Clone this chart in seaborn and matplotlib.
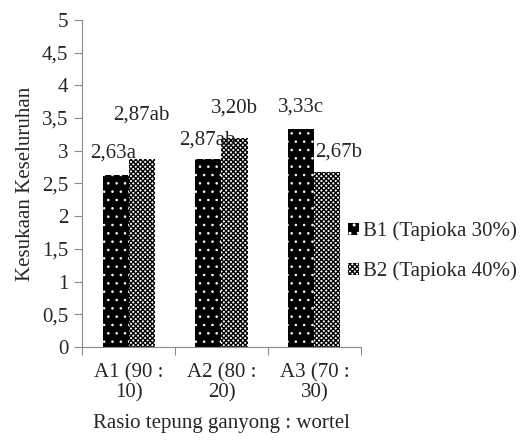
import matplotlib
matplotlib.use("Agg")
import matplotlib.pyplot as plt
import seaborn as sns
import pandas as pd
from matplotlib.patches import Patch

categories = ["A1 (90 :\n10)", "A2 (80 :\n20)", "A3 (70 :\n30)"]
series_names = ["B1 (Tapioka 30%)", "B2 (Tapioka 40%)"]
b1_values = [2.63, 2.87, 3.33]
b2_values = [2.87, 3.20, 2.67]
b1_labels = ["2,63a", "2,87ab", "3,33c"]
b2_labels = ["2,87ab", "3,20b", "2,67b"]
y_ticks = [0, 0.5, 1, 1.5, 2, 2.5, 3, 3.5, 4, 4.5, 5]

df = pd.DataFrame({
    "kategori": categories * 2,
    "perlakuan": [series_names[0]] * 3 + [series_names[1]] * 3,
    "nilai": b1_values + b2_values,
})

sns.set_style("white")
plt.rcParams["font.family"] = ["Liberation Serif", "DejaVu Serif"]
FS = 15

fig = plt.figure(figsize=(5.23, 4.41), dpi=100)
ax = fig.add_axes([0.157, 0.213, 0.533, 0.742])

sns.barplot(data=df, x="kategori", y="nilai", hue="perlakuan",
            order=categories, hue_order=series_names,
            palette=["black", "white"], width=0.56, gap=0,
            legend=False, ax=ax, linewidth=0, saturation=1)

# fill patterns: dotted black for B1, fine checker for B2
styles = [("black", "white", "..", 0.6), ("white", "black", "xxxxxxx", 1.0)]
for cont, (fc, ec, hatch, hlw) in zip(ax.containers, styles):
    for bar in cont:
        bar.set_facecolor(fc)
        bar.set_edgecolor(ec)
        bar.set_hatch(hatch)
        bar.set_linewidth(0)
        if hasattr(bar, "set_hatch_linewidth"):
            bar.set_hatch_linewidth(hlw)

# value labels positioned relative to their bars
b1_offsets = [(-0.03, 0.34), (-0.01, 0.30), (0.0, 0.33)]
b2_offsets = [(0.0, 0.68), (0.0, 0.45), (0.12, 0.31)]
for cont, labels, values, offsets in [(ax.containers[0], b1_labels, b1_values, b1_offsets),
                                      (ax.containers[1], b2_labels, b2_values, b2_offsets)]:
    for bar, lab, val, (dx, dy) in zip(cont, labels, values, offsets):
        cx = bar.get_x() + bar.get_width() / 2
        ax.text(cx + dx, val + dy, lab, ha="center", va="center", fontsize=FS)

ax.set_ylim(0, 5)
ax.set_xlim(-0.5, 2.5)
ax.set_yticks(y_ticks)
ax.set_yticklabels([f"{t:g}".replace(".", ",") for t in y_ticks], fontsize=FS)
ax.set_xticks([0, 1, 2])
ax.set_xticklabels(categories, fontsize=FS, linespacing=1.05)
ax.tick_params(axis="x", length=0, pad=12)
ax.tick_params(axis="y", length=6, width=0.8, color="#8c8c8c", left=True, pad=4)
# category separators along the x axis
ax.set_xticks([-0.5, 0.5, 1.5, 2.5], minor=True)
ax.tick_params(axis="x", which="minor", length=6, width=0.8, color="#8c8c8c", bottom=True)

for side in ["top", "right"]:
    ax.spines[side].set_visible(False)
for side in ["left", "bottom"]:
    ax.spines[side].set_color("#8c8c8c")
    ax.spines[side].set_linewidth(0.8)

ax.set_xlabel("Rasio tepung ganyong : wortel", fontsize=FS, labelpad=8)
ax.set_ylabel("Kesukaan Keseluruhan", fontsize=FS, labelpad=5)

handles = [Patch(facecolor="black", edgecolor="white", hatch="..", linewidth=0),
           Patch(facecolor="white", edgecolor="black", hatch="xxxxxxx", linewidth=0)]
fig.legend(handles, series_names, loc="center left",
           bbox_to_anchor=(0.63, 0.43), frameon=False, fontsize=FS,
           handlelength=0.5, handleheight=0.5, handletextpad=0.2,
           labelspacing=0.95)

fig.savefig("out.png", dpi=100)
